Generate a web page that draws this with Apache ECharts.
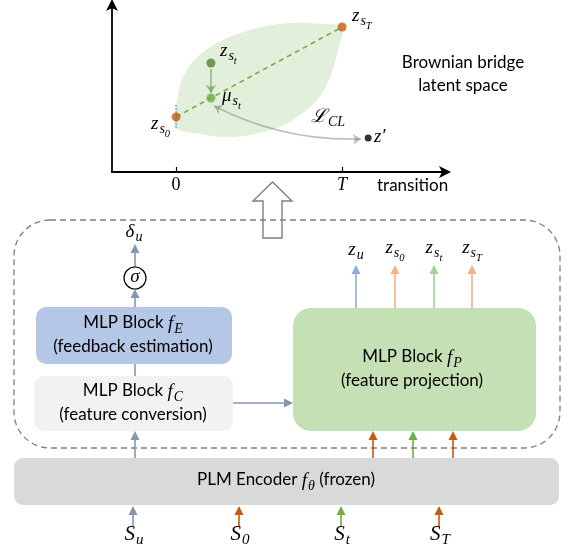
<!DOCTYPE html>
<html><head><meta charset="utf-8">
<script src="https://cdn.jsdelivr.net/npm/echarts@6/dist/echarts.min.js"></script>
<style>html,body{margin:0;padding:0;background:#fff}#c{width:570px;height:549px}</style>
</head><body><div id="c"></div><script>
// ---------- data (latent space plot) ----------
const xTickValues = [0, 1];
const xTickLabels = ['0', 'T'];
const bridgeEnds = [[0, 0.33], [1, 0.868]];      // z_{s0}, z_{sT}
const ztPoint = [[0.21, 0.653]];                 // z_{st}
const muPoint = [[0.21, 0.443]];                 // mu_{st}
const negPoint = [[1.157, 0.204]];               // z'
const pullArrow = [[0.21, 0.617], [0.21, 0.473]];
const clArrow = [[1.114, 0.198], [0.229, 0.395]];
const startBar = [[0, 0.40], [0, 0.265]];
const leafOutline = [
  [0, 0.263], [0.145, 0.228], [0.283, 0.210], [0.446, 0.222], [0.608, 0.263],
  [0.729, 0.329], [0.849, 0.431], [0.928, 0.569], [0.976, 0.731], [1.0, 0.868],
  [0.886, 0.886], [0.687, 0.892], [0.488, 0.862], [0.283, 0.790], [0.127, 0.689],
  [0.042, 0.569], [0.006, 0.431], [0, 0.371]
];
// ---------- data (diagram labels) ----------
const outputLabels = [['z', 'u', ''], ['z', 's', '0'], ['z', 's', 't'], ['z', 's', 'T']];
const outputColors = ['#8faadc', '#f4b183', '#a9d18e', '#f4b183'];
const outputX = [356, 395, 434, 472];
const inputLabels = [['S', 'u'], ['S', '0'], ['S', 't'], ['S', 'T']];
const inputColors = ['#8497b0', '#c55a11', '#70ad47', '#c55a11'];
const inputX = [133, 239, 341, 439];
const encOutX = [373, 413, 453];
const encOutColors = ['#c55a11', '#70ad47', '#c55a11'];

const SANS = 'Lato, "Open Sans", sans-serif';
const SERIF = '"Liberation Serif", "DejaVu Serif", serif';

const rich = {
  n: {fontFamily: SANS, fontSize: 17, fill: '#000', verticalAlign: 'top', padding: [0, 0, 0, 0]},
  m: {fontFamily: SERIF, fontStyle: 'italic', fontSize: 19, fill: '#000', verticalAlign: 'top', padding: [0, 0, 0, 0]},
  M: {fontFamily: SERIF, fontStyle: 'italic', fontSize: 21, fill: '#000', verticalAlign: 'top', padding: [0, 0, 0, 0]},
  s: {fontFamily: SERIF, fontStyle: 'italic', fontSize: 14, fill: '#000', verticalAlign: 'top', padding: [8, 0, 0, 1]},
  S: {fontFamily: SERIF, fontStyle: 'italic', fontSize: 15, fill: '#000', verticalAlign: 'top', padding: [9, 0, 0, 1]},
  ss: {fontFamily: SERIF, fontStyle: 'italic', fontSize: 10.5, fill: '#000', verticalAlign: 'top', padding: [14, 0, 0, 0]},
  u: {fontFamily: SERIF, fontSize: 19, fill: '#000', verticalAlign: 'top', padding: [0, 0, 0, 1]}
};

function txt(x, y, text, align) {
  return {type: 'text', z: 20, style: {x: x, y: y, text: text, rich: rich, align: align || 'center', verticalAlign: 'middle'}};
}
function sub3(a) {
  return '{m|' + a[0] + '}' + (a[1] ? '{s|' + a[1] + '}' : '') + (a[2] ? '{ss|' + a[2] + '}' : '');
}
function vArrow(x, y0, y1, color) {
  const h = 9, w = 4.5;
  return [
    {type: 'line', z: 5, shape: {x1: x, y1: y0, x2: x, y2: y1 + h - 1}, style: {stroke: color, lineWidth: 1.6}},
    {type: 'polygon', z: 5, shape: {points: [[x, y1], [x - w, y1 + h], [x + w, y1 + h]]}, style: {fill: color}}
  ];
}
function hArrow(x0, x1, y, color) {
  const h = 9, w = 4.5;
  return [
    {type: 'line', z: 5, shape: {x1: x0, y1: y, x2: x1 - h + 1, y2: y}, style: {stroke: color, lineWidth: 1.6}},
    {type: 'polygon', z: 5, shape: {points: [[x1, y], [x1 - h, y - w], [x1 - h, y + w]]}, style: {fill: color}}
  ];
}
function box(x, y, w, h, fill, r) {
  return {type: 'rect', z: 2, shape: {x: x, y: y, width: w, height: h, r: r || 10}, style: {fill: fill}};
}

const els = [];
// dashed container
els.push({type: 'rect', z: 1, shape: {x: 14, y: 220, width: 546, height: 228, r: 36},
  style: {fill: 'transparent', stroke: '#7f7f7f', lineWidth: 1.3, lineDash: [6, 4]}});
// hollow up arrow
els.push({type: 'polygon', z: 3, shape: {points: [[263, 238], [263, 201], [253, 201], [272.5, 182], [292, 201], [282, 201], [282, 238]]},
  style: {fill: 'transparent', stroke: '#7f7f7f', lineWidth: 1.4}});
// boxes
els.push(box(36, 307, 196, 57, '#b4c7e7', 10));
els.push(box(34, 376, 199, 55, '#f2f2f2', 10));
els.push(box(293, 308, 243, 123, '#c5e0b4', 18));
els.push(box(14, 458, 545, 47, '#d9d9d9', 9));
// box texts
els.push(txt(133, 325, '{n|MLP Block }{m|f}{s|E}'));
els.push(txt(133, 347, '{n|(feedback estimation)}'));
els.push(txt(133, 393, '{n|MLP Block }{m|f}{s|C}'));
els.push(txt(133, 415, '{n|(feature conversion)}'));
els.push(txt(412, 359, '{n|MLP Block }{m|f}{s|P}'));
els.push(txt(412, 381, '{n|(feature projection)}'));
els.push(txt(286, 482, '{n|PLM Encoder }{m|f}{s|θ}{n| (frozen)}'));
// left column arrows
els.push({type: 'line', z: 5, shape: {x1: 135, y1: 364, x2: 135, y2: 376}, style: {stroke: '#8497b0', lineWidth: 1.6}});
els.push(...vArrow(135, 307, 289, '#8497b0'));
els.push(...vArrow(135, 267, 244, '#8497b0'));
els.push(...vArrow(135, 458, 431, '#8497b0'));
els.push(...hArrow(233, 293, 403, '#8497b0'));
els.push({type: 'circle', z: 6, shape: {cx: 135, cy: 278, r: 11}, style: {fill: '#fff', stroke: '#000', lineWidth: 1.2}});
els.push(txt(135, 277, '{m|σ}'));
els.push(txt(134, 233, '{m|δ}{s|u}'));
// outputs of f_P
outputX.forEach((x, i) => {
  els.push(...vArrow(x, 308, 265, outputColors[i]));
  els.push(txt(x, 251, sub3(outputLabels[i])));
});
// encoder -> f_P
encOutX.forEach((x, i) => els.push(...vArrow(x, 458, 431, encOutColors[i])));
// inputs
inputX.forEach((x, i) => {
  els.push(...vArrow(x, 527, 506, inputColors[i]));
  els.push(txt(x + 1, 536, '{M|' + inputLabels[i][0] + '}{S|' + inputLabels[i][1] + '}'));
});
// latent-space labels
els.push(txt(352, 19, sub3(['z', 's', 'T']), 'left'));
els.push(txt(220, 54, sub3(['z', 's', 't']), 'left'));
els.push(txt(222, 99, sub3(['μ', 's', 't']), 'left'));
els.push(txt(151, 127, sub3(['z', 's', '0']), 'left'));
els.push(txt(374, 137, "{m|z}{u|′}", 'left'));
els.push(txt(311, 118, '{m|ℒ}{s|CL}', 'left'));
els.push({type: 'text', z: 20, style: {x: 463, y: 63, text: 'Brownian bridge', font: '17px ' + SANS, fill: '#000', align: 'center', verticalAlign: 'middle'}});
els.push({type: 'text', z: 20, style: {x: 463, y: 86, text: 'latent space', font: '17px ' + SANS, fill: '#000', align: 'center', verticalAlign: 'middle'}});
els.push({type: 'text', z: 20, style: {x: 377, y: 186, text: 'transition', font: '17px ' + SANS, fill: '#000', align: 'left', verticalAlign: 'middle'}});

const chart = echarts.init(document.getElementById('c'), null, {renderer: 'canvas'});
chart.setOption({
  animation: false,
  backgroundColor: '#fff',
  grid: {left: 112, right: 125, top: 5, bottom: 377, containLabel: false},
  xAxis: {
    type: 'value', min: -0.386, max: 1.62,
    splitLine: {show: false},
    axisLine: {lineStyle: {color: '#000', width: 1.8}, symbol: ['none', 'arrow'], symbolSize: [9, 12], symbolOffset: [0, 6]},
    axisTick: {show: true, inside: true, length: 5, customValues: xTickValues, lineStyle: {color: '#000', width: 1.2}},
    axisLabel: {
      customValues: xTickValues, margin: 4,
      formatter: v => { const i = xTickValues.indexOf(v); return i === 1 ? '{t|' + xTickLabels[i] + '}' : '{z|' + xTickLabels[i] + '}'; },
      rich: {
        t: {fontFamily: SERIF, fontStyle: 'italic', fontSize: 18, color: '#000'},
        z: {fontFamily: SERIF, fontSize: 18, color: '#000'}
      }
    }
  },
  yAxis: {
    type: 'value', min: 0, max: 1,
    splitLine: {show: false}, axisTick: {show: false}, axisLabel: {show: false},
    axisLine: {onZero: false, lineStyle: {color: '#000', width: 1.8}, symbol: ['none', 'arrow'], symbolSize: [9, 12], symbolOffset: [0, 6]}
  },
  graphic: {elements: els},
  series: [
    {
      type: 'custom', z: 1, silent: true, data: [[0, 0]],
      renderItem: (params, api) => ({
        type: 'polygon',
        shape: {points: leafOutline.map(p => api.coord(p)), smooth: 0.35},
        style: {fill: '#e2efda', stroke: 'none'}
      })
    },
    {type: 'line', z: 3, data: bridgeEnds, symbol: 'none', lineStyle: {color: '#70ad47', width: 1.6, type: [5, 4]}},
    {type: 'line', z: 3, data: startBar, symbol: 'none', lineStyle: {color: '#5b9bd5', width: 1.6, type: [1.5, 1.5]}},
    {type: 'lines', coordinateSystem: 'cartesian2d', z: 4, symbol: ['none', 'arrow'], symbolSize: 8,
      lineStyle: {color: '#548235', width: 1.6, curveness: 0},
      data: [{coords: pullArrow}]},
    {type: 'lines', coordinateSystem: 'cartesian2d', z: 4, symbol: ['arrow', 'arrow'], symbolSize: 8,
      lineStyle: {color: '#7f7f7f', width: 1.6, curveness: 0.13},
      data: [{coords: clArrow}]},
    {type: 'scatter', z: 6, data: bridgeEnds, symbolSize: 9, itemStyle: {color: '#c55a11'}},
    {type: 'scatter', z: 6, data: ztPoint, symbolSize: 9, itemStyle: {color: '#548235'}},
    {type: 'scatter', z: 6, data: muPoint, symbolSize: 9, itemStyle: {color: '#70ad47'}},
    {type: 'scatter', z: 6, data: negPoint, symbolSize: 7, itemStyle: {color: '#000'}}
  ]
});
</script></body></html>
